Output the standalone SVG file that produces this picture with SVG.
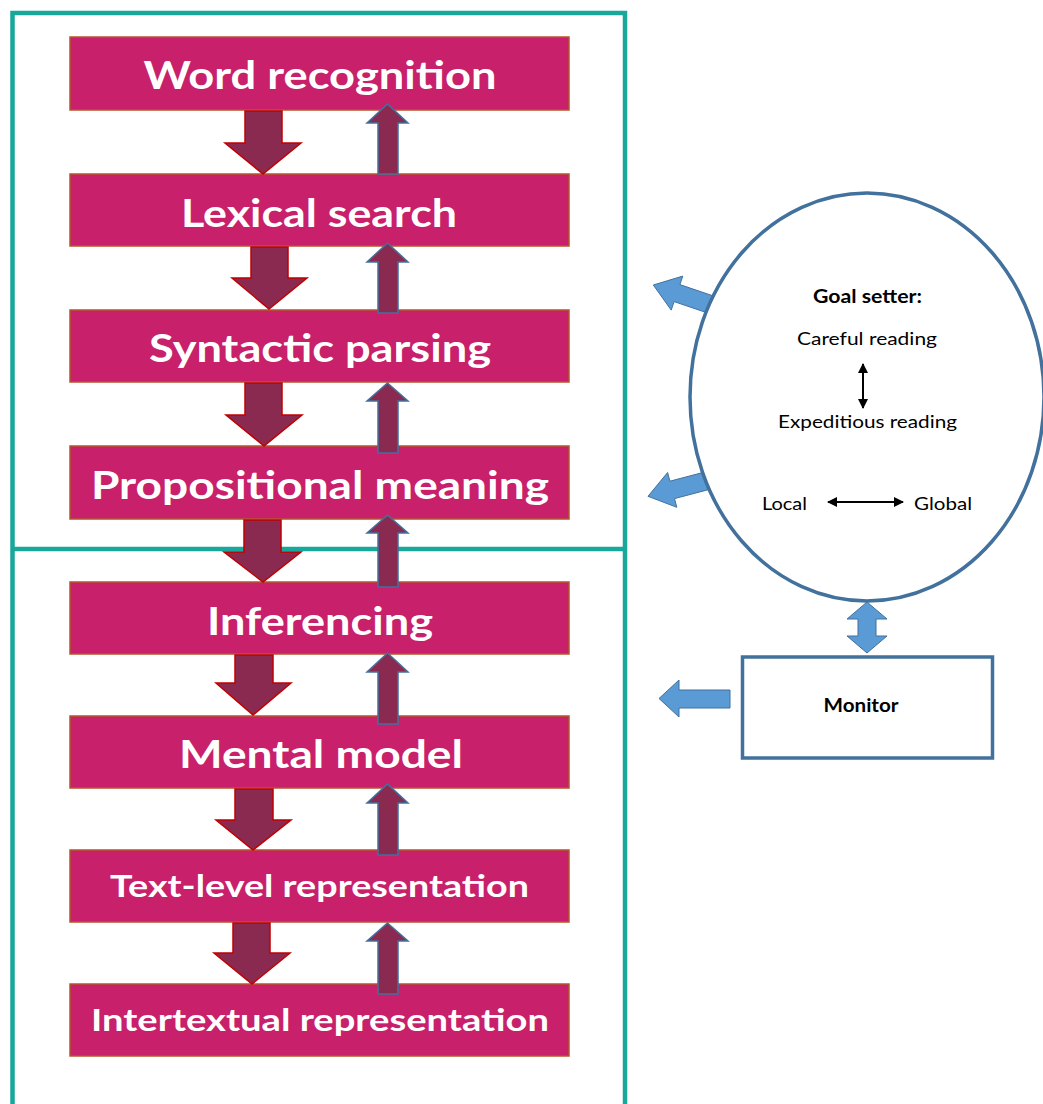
<svg xmlns="http://www.w3.org/2000/svg" width="1043" height="1104" viewBox="0 0 1043 1104">
<style>
.frame{fill:none;stroke:#17A79B;stroke-width:4.5}
.box{fill:#C8206A;stroke:#B5542E;stroke-width:1.5}
.lbl{font-family:Lato,"Liberation Sans",sans-serif;font-weight:bold;fill:#FFFFFF;text-anchor:middle}
.big{font-size:39px}
.small{font-size:30px}
.dn{fill:#8B2A50;stroke:#C00000;stroke-width:1.5;stroke-linejoin:miter}
.up{fill:#8B2A50;stroke:#41719C;stroke-width:1.5;stroke-linejoin:miter}
.blue{fill:#5B9BD5;stroke:#41719C;stroke-width:1}
.outline{fill:#FFFFFF;stroke:#41719C;stroke-width:3.5}
.t{font-family:Lato,"Liberation Sans",sans-serif;font-size:18px;fill:#000000;text-anchor:middle}
.b{font-weight:bold}
.blk{stroke:#000000;stroke-width:2;fill:none}
</style>
<defs>
<marker id="ah" viewBox="0 0 10 10" refX="9" refY="5" markerWidth="5" markerHeight="5" orient="auto-start-reverse" markerUnits="strokeWidth">
<path d="M0,0 L10,5 L0,10 z" fill="#000000"/>
</marker>
</defs>
<rect x="0" y="0" width="1043" height="1104" fill="#FFFFFF"/>
<g id="frame">
<path class="frame" d="M12.5,1110 V13 H625 V1110"/>
<path class="frame" d="M12.5,549 H625"/>
</g>
<g id="node-word-recognition">
<rect class="box" x="70" y="37" width="499" height="73"/>
<text class="lbl big" x="320" y="89" textLength="353" lengthAdjust="spacingAndGlyphs">Word recognition</text>
</g>
<g id="node-lexical-search">
<rect class="box" x="70" y="174" width="499" height="72"/>
<text class="lbl big" x="319" y="227" textLength="276" lengthAdjust="spacingAndGlyphs">Lexical search</text>
</g>
<g id="node-syntactic-parsing">
<rect class="box" x="70" y="310" width="499" height="72"/>
<text class="lbl big" x="320" y="362" textLength="342" lengthAdjust="spacingAndGlyphs">Syntactic parsing</text>
</g>
<g id="node-propositional-meaning">
<rect class="box" x="70" y="446" width="499" height="73"/>
<text class="lbl big" x="320" y="499" textLength="458" lengthAdjust="spacingAndGlyphs">Propositional meaning</text>
</g>
<g id="node-inferencing">
<rect class="box" x="70" y="582" width="499" height="72"/>
<text class="lbl big" x="320" y="635" textLength="226" lengthAdjust="spacingAndGlyphs">Inferencing</text>
</g>
<g id="node-mental-model">
<rect class="box" x="70" y="716" width="499" height="72"/>
<text class="lbl big" x="321" y="768" textLength="284" lengthAdjust="spacingAndGlyphs">Mental model</text>
</g>
<g id="node-text-level">
<rect class="box" x="70" y="850" width="499" height="72"/>
<text class="lbl small" x="319.5" y="897" textLength="419" lengthAdjust="spacingAndGlyphs">Text-level representation</text>
</g>
<g id="node-intertextual">
<rect class="box" x="70" y="984" width="499" height="72"/>
<text class="lbl small" x="320" y="1031" textLength="458" lengthAdjust="spacingAndGlyphs">Intertextual representation</text>
</g>
<g id="connectors">
<polygon class="dn" points="245,111 282,111 282,143 301,143 263,174 225,143 245,143"/>
<polygon class="dn" points="251,247 288,247 288,278 307,278 269,309 232,278 251,278"/>
<polygon class="dn" points="245,383 282,383 282,415 302,415 264,446 226,415 245,415"/>
<polygon class="dn" points="244,520 281,520 281,552 301,552 263,582 224,552 244,552"/>
<polygon class="dn" points="235,655 273,655 273,683 291,683 253,715 216,683 235,683"/>
<polygon class="dn" points="235,789 273,789 273,820 291,820 253,850 216,820 235,820"/>
<polygon class="dn" points="233,923 270,923 270,953 290,953 252,984 214,953 233,953"/>
<polygon class="up" points="387.5,104 408,123 398,123 398,174 378,174 378,123 367,123"/>
<polygon class="up" points="387.5,243 408,262 398,262 398,313 378,313 378,262 367,262"/>
<polygon class="up" points="387.5,383 408,401 398,401 398,453 378,453 378,401 367,401"/>
<polygon class="up" points="387.5,515 408,533 398,533 398,587 378,587 378,533 367,533"/>
<polygon class="up" points="387.5,653 408,672 398,672 398,724 378,724 378,672 367,672"/>
<polygon class="up" points="387.5,784 408,803 398,803 398,855 378,855 378,803 367,803"/>
<polygon class="up" points="387.5,923 408,941 398,941 398,994 378,994 378,941 367,941"/>
<polygon class="blue" points="714.9,296.5 679.9,284.6 682.8,276.1 653.3,285 671.2,310.1 674.1,301.6 709.1,313.5"/>
<polygon class="blue" points="703.7,472.3 669.9,481.2 667.6,472.5 648,496.3 676.8,507.3 674.5,498.6 708.3,489.7"/>
<polygon class="blue" points="867,602 887,619 876,619 876,636 887,636 867,653 847,636 858,636 858,619 847,619"/>
<polygon class="blue" points="659,698.5 679,680 679,690 730,690 730,708 679,708 679,717"/>
</g>
<g id="node-goal-setter">
<ellipse class="outline" cx="867" cy="397" rx="177" ry="204"/>
<text class="t b" x="867.5" y="303" textLength="109" lengthAdjust="spacingAndGlyphs">Goal setter:</text>
<text class="t" x="867" y="345" textLength="140" lengthAdjust="spacingAndGlyphs">Careful reading</text>
<line class="blk" x1="863" y1="364" x2="863" y2="408" marker-start="url(#ah)" marker-end="url(#ah)"/>
<text class="t" x="867.5" y="428" textLength="179" lengthAdjust="spacingAndGlyphs">Expeditious reading</text>
<text class="t" x="784.5" y="510" textLength="45" lengthAdjust="spacingAndGlyphs">Local</text>
<line class="blk" x1="828" y1="502" x2="903" y2="502" marker-start="url(#ah)" marker-end="url(#ah)"/>
<text class="t" x="943" y="510" textLength="58" lengthAdjust="spacingAndGlyphs">Global</text>
</g>
<g id="node-monitor">
<rect class="outline" x="742.5" y="657" width="250" height="101"/>
<text class="t b" x="861" y="712" textLength="75" lengthAdjust="spacingAndGlyphs">Monitor</text>
</g>
</svg>
